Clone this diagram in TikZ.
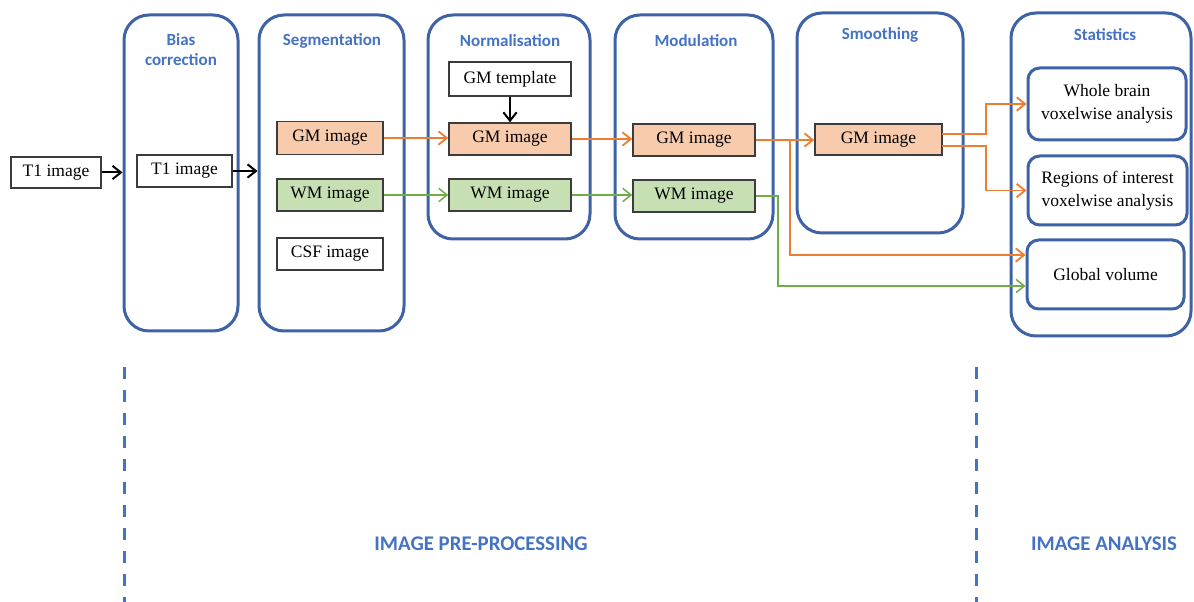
\documentclass[tikz,border=0pt]{standalone}
\usepackage{fontspec}
\setmainfont{Liberation Serif}
\newfontfamily\titlefont{Carlito}
\usetikzlibrary{arrows.meta,calc}
\definecolor{stageblue}{RGB}{61,98,165}
\definecolor{titleblue}{RGB}{68,114,196}
\definecolor{gmfill}{RGB}{248,203,173}
\definecolor{wmfill}{RGB}{198,224,180}
\definecolor{gmline}{RGB}{237,125,49}
\definecolor{wmline}{RGB}{112,173,71}
\definecolor{boxline}{RGB}{60,60,60}
\begin{document}
\begin{tikzpicture}[x=0.6pt,y=-0.6pt,
  stage/.style={draw=stageblue,line width=1.8pt,rounded corners=15pt,inner sep=0pt},
  result/.style={draw=stageblue,line width=1.8pt,rounded corners=7pt,inner sep=0pt,align=center,font=\fontsize{10.5}{13.5}\selectfont},
  imgbox/.style={draw=boxline,line width=0.9pt,inner sep=0pt,font=\fontsize{10.5}{12}\selectfont},
  gmbox/.style={imgbox,fill=gmfill},
  wmbox/.style={imgbox,fill=wmfill},
  ttl/.style={font=\titlefont\bfseries\fontsize{10.2}{12}\selectfont,text=titleblue,align=center},
  phase/.style={font=\titlefont\bfseries\fontsize{12.5}{14}\selectfont,text=titleblue},
  blackarrow/.style={draw=black,line width=1.2pt,-{Straight Barb[length=5pt,width=8pt,line width=1.2pt]}},
  gmarrow/.style={draw=gmline,line width=1.1pt,-{Straight Barb[length=5pt,width=8pt,line width=1.1pt]}},
  wmarrow/.style={draw=wmline,line width=0.9pt,-{Straight Barb[length=5pt,width=8pt,line width=0.9pt]}},
  divider/.style={draw=titleblue,line width=1.8pt,dash pattern=on 7.2pt off 6.6pt}
]
\useasboundingbox (0,0) rectangle (1194,602);

% stages
\node[stage,minimum width=68.4pt,minimum height=189.6pt] (bias) at (181,173) {};
\node[stage,minimum width=87pt,minimum height=189.6pt] (seg) at (331.5,173) {};
\node[stage,minimum width=97.2pt,minimum height=134.4pt] (norm) at (509,127) {};
\node[stage,minimum width=94.8pt,minimum height=134.4pt] (mod) at (694,127) {};
\node[stage,minimum width=99.6pt,minimum height=132pt] (smooth) at (880,123) {};
\node[stage,minimum width=108pt,minimum height=193.8pt] (stats) at (1101,174.5) {};

% titles
\node[ttl] (tbias) at (181,50) {Bias\\correction};
\node[ttl] (tseg) at (332,41) {Segmentation};
\node[ttl] (tnorm) at (510,41) {Normalisation};
\node[ttl] (tmod) at (696,41) {Modulation};
\node[ttl] (tsmooth) at (880,35) {Smoothing};
\node[ttl] (tstats) at (1105,35) {Statistics};

% results
\node[result,minimum width=94.8pt,minimum height=43.2pt] (whole) at (1107,104) {Whole brain\\voxelwise analysis};
\node[result,minimum width=95.4pt,minimum height=41.4pt] (roi) at (1107.5,190.5) {Regions of interest\\voxelwise analysis};
\node[result,minimum width=94.2pt,minimum height=41.4pt] (global) at (1105.5,274.5) {Global volume};

% image boxes
\node[imgbox,minimum width=54pt,minimum height=18.6pt] (t1a) at (56,172.5) {T1 image};
\node[imgbox,minimum width=57pt,minimum height=19.2pt] (t1b) at (184.5,171) {T1 image};
\node[gmbox,minimum width=63.6pt,minimum height=19.8pt] (gm1) at (330,138) {GM image};
\node[wmbox,minimum width=63.6pt,minimum height=19.2pt] (wm1) at (330,195) {WM image};
\node[imgbox,minimum width=63.6pt,minimum height=19.2pt] (csf) at (330,254) {CSF image};
\node[imgbox,minimum width=73.2pt,minimum height=20.4pt] (tmpl) at (510,79) {GM template};
\node[gmbox,minimum width=73.2pt,minimum height=19.2pt] (gm2) at (510,139) {GM image};
\node[wmbox,minimum width=73.2pt,minimum height=19.2pt] (wm2) at (510,195) {WM image};
\node[gmbox,minimum width=73.2pt,minimum height=19.2pt] (gm3) at (694,140) {GM image};
\node[wmbox,minimum width=73.2pt,minimum height=19.2pt] (wm3) at (694,196) {WM image};
\node[gmbox,minimum width=76.2pt,minimum height=18.6pt] (gm4) at (878.5,139.5) {GM image};

% phase labels
\node[phase] (pre) at (481,544) {IMAGE PRE-PROCESSING};
\node[phase] (ana) at (1104,544) {IMAGE ANALYSIS};

% dividers
\coordinate (d1a) at (124.5,367);
\coordinate (d1b) at (124.5,602);
\coordinate (d2a) at (976,367);
\coordinate (d2b) at (976,602);
\draw[divider] (d1a) -- (d1b);
\draw[divider] (d2a) -- (d2b);

% black arrows
\draw[blackarrow] (t1a.east) -- (t1a.east -| bias.west);
\draw[blackarrow] (t1b.east) -- (t1b.east -| seg.west);
\draw[blackarrow] (tmpl.south) -- (gm2.north);

% GM path
\draw[gmarrow] (gm1.east) -- (gm1.east -| gm2.west);
\draw[gmarrow] (gm2.east) -- (gm2.east -| gm3.west);
\draw[gmarrow] (gm3.east) -- (gm3.east -| gm4.west);
\coordinate (b1) at (790,140);
\coordinate (b1d) at (790,255);
\draw[gmarrow] (b1) -- (b1d) -- (b1d -| global.west);
\coordinate (s1) at (942,134);
\coordinate (s1b) at (986,134);
\coordinate (s2) at (942,146);
\coordinate (s2b) at (986,146);
\draw[gmarrow] (s1) -- (s1b) |- (whole.west);
\draw[gmarrow] (s2) -- (s2b) |- (roi.west);

% WM path
\draw[wmarrow] (wm1.east) -- (wm1.east -| wm2.west);
\draw[wmarrow] (wm2.east) -- (wm2.east -| wm3.west);
\coordinate (w1) at (778,196);
\coordinate (w1d) at (778,286);
\draw[wmarrow] (wm3.east) -- (w1) -- (w1d) -- (w1d -| global.west);
\end{tikzpicture}
\end{document}
